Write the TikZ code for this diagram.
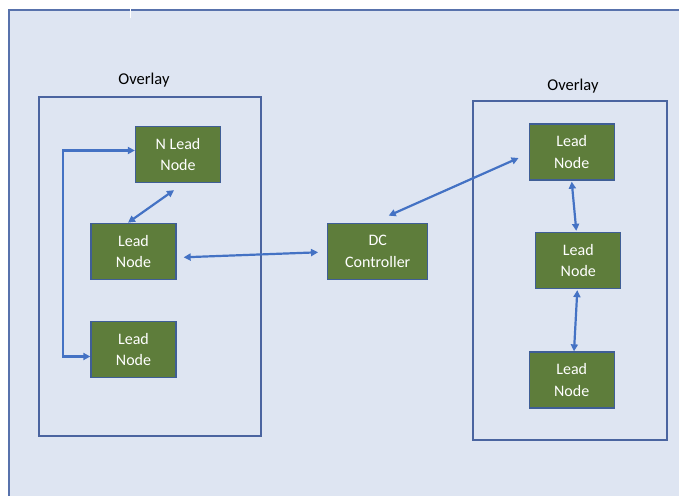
\documentclass[tikz,border=0pt]{standalone}
\usepackage{fontspec}
\setmainfont{Carlito}
\usetikzlibrary{arrows.meta,calc}
\definecolor{panelfill}{HTML}{DEE5F2}
\definecolor{panelline}{HTML}{5872AC}
\definecolor{boxline}{HTML}{4A64A0}
\definecolor{leadfill}{HTML}{5E7D3B}
\definecolor{leadline}{HTML}{3F5E96}
\definecolor{linkblue}{HTML}{4472C4}
\tikzset{
  leadbox/.style={draw=leadline, line width=1.3pt, fill=leadfill, text=white,
    minimum width=85pt, minimum height=56pt, inner sep=0pt, align=center,
    font=\fontsize{16}{21.5}\selectfont},
  overlaybox/.style={draw=boxline, line width=1.3pt},
  overlaylabel/.style={font=\fontsize{16.5}{19}\selectfont, text=black},
  link/.style={draw=linkblue, line width=2.2pt,
    {Triangle[length=7pt,width=7pt]}-{Triangle[length=7pt,width=7pt]}}
}
\begin{document}
\begin{tikzpicture}[x=1pt,y=-1pt]
\useasboundingbox (0,0) rectangle (679,495);
\clip (0,0) rectangle (679,495);
% backdrop panel
\fill[white] (0,0) rectangle (679,495);
\draw[panelline, line width=1.4pt, fill=panelfill] (9,10) rectangle (700,520);
\draw[white, line width=1pt] (130,0) -- (130,18);

% overlay frames
\draw[overlaybox] (39,97) rectangle (261,436);
\node[overlaylabel] (ovl) at (144,80) {Overlay};
\draw[overlaybox] (473,101) rectangle (667,440);
\node[overlaylabel] (ovr) at (573,86) {Overlay};

% left overlay nodes
\node[leadbox] (nlead) at (178,154.5) {N Lead\\Node};
\node[leadbox] (lmid)  at (133.5,251.3) {Lead\\Node};
\node[leadbox] (lbot)  at (133.5,349.5) {Lead\\Node};

% controller
\node[leadbox, minimum width=100pt] (dc) at (377.7,251.3) {DC\\Controller};

% right overlay nodes
\node[leadbox] (rtop) at (571.7,152) {Lead\\Node};
\node[leadbox] (rmid) at (578.3,260.5) {Lead\\Node};
\node[leadbox] (rbot) at (571.7,380) {Lead\\Node};

% connectors
\draw[link] ([shift={(0,-4)}]nlead.west) -- ++(-72,0) |- ([shift={(0,7)}]lbot.west);
\draw[link] ([shift={(-4,7)}]nlead.south) -- ([shift={(-5.5,0)}]lmid.north);
\draw[link] ([shift={(7,6)}]lmid.east) -- ([shift={(-9,1)}]dc.west);
\draw[link] ([shift={(11,-7)}]dc.north) -- ([shift={(-10,6)}]rtop.west);
\draw[link] ([shift={(0,1)}]rtop.south) -- ([shift={(-2,-1)}]rmid.north);
\draw[link] ([shift={(-1,1)}]rmid.south) -- ([shift={(2.3,0)}]rbot.north);
\end{tikzpicture}
\end{document}
